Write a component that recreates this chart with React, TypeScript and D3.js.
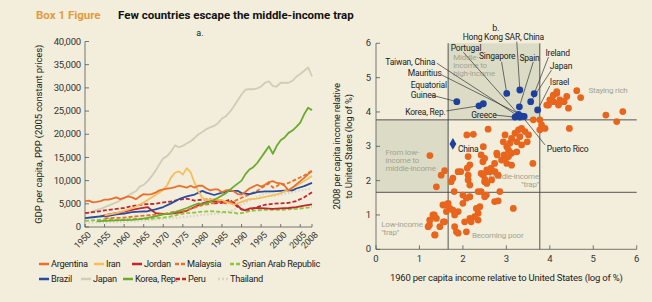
import React from 'react';
import * as d3 from 'd3';

const width = 652;
const height = 302;
const FONT = "'Roboto', 'Open Sans', sans-serif";
const bg = '#f2eedb';
const shade = '#dcdcc6';
const dotOrange = '#e8651d';
const dotBlue = '#1f3f9c';
const greyText = '#a3a392';

// panel a: GDP per capita, [year, value]
const argentina = [[1950,5600],[1951,5700],[1952,5300],[1953,5400],[1954,5600],[1955,5900],[1956,5900],[1957,6100],[1958,6400],[1959,6000],[1960,6300],[1961,6600],[1962,6400],[1963,6000],[1964,6600],[1965,7100],[1966,7000],[1967,7100],[1968,7400],[1969,7900],[1970,8100],[1971,8300],[1972,8400],[1973,8600],[1974,8900],[1975,8700],[1976,8500],[1977,8900],[1978,8500],[1979,8900],[1980,8900],[1981,8300],[1982,7900],[1983,8100],[1984,8100],[1985,7500],[1986,7900],[1987,8000],[1988,7700],[1989,7100],[1990,7000],[1991,7600],[1992,8300],[1993,8700],[1994,9100],[1995,8700],[1996,9100],[1997,9700],[1998,9900],[1999,9500],[2000,9400],[2001,8900],[2002,7900],[2003,8500],[2004,9200],[2005,9900],[2006,10600],[2007,11400],[2008,12000]];
const iran = [[1955,2500],[1958,3000],[1960,3500],[1962,4000],[1964,4800],[1966,5800],[1968,6900],[1970,8000],[1971,9000],[1972,10700],[1973,11700],[1974,12000],[1975,11300],[1976,12700],[1977,11800],[1978,9500],[1979,7600],[1980,6300],[1981,5800],[1983,6000],[1985,5800],[1987,5100],[1988,4800],[1990,5400],[1992,6000],[1994,6100],[1996,6500],[1998,6800],[2000,7300],[2002,8000],[2004,8900],[2006,9900],[2008,11000]];
const jordan = [[1954,2300],[1956,2700],[1958,3000],[1960,3300],[1962,3700],[1964,4000],[1966,4300],[1967,3600],[1968,3000],[1970,2800],[1972,2900],[1974,3100],[1976,3500],[1978,4300],[1980,5100],[1982,5600],[1984,5500],[1986,5400],[1988,5300],[1989,4600],[1990,3800],[1991,3600],[1992,4000],[1994,4100],[1996,4000],[1998,3900],[2000,4000],[2002,4100],[2004,4300],[2006,4600],[2008,4900]];
const malaysia = [[1955,1900],[1960,2000],[1963,2300],[1966,2500],[1970,2800],[1973,3300],[1975,3400],[1978,4200],[1980,4700],[1982,5000],[1984,5400],[1986,5100],[1988,5500],[1990,6300],[1992,7000],[1994,7800],[1996,8900],[1997,9400],[1998,8500],[1999,8800],[2000,9400],[2001,9200],[2002,9500],[2004,10300],[2006,11100],[2008,12200]];
const syria = [[1950,1300],[1953,1500],[1956,1700],[1958,1500],[1960,1600],[1963,1800],[1966,1700],[1968,1900],[1970,2000],[1972,2300],[1974,2700],[1976,3000],[1978,3100],[1980,3300],[1982,3400],[1984,3300],[1986,3200],[1988,3100],[1989,2900],[1990,3000],[1992,3400],[1994,3600],[1996,3700],[1998,3700],[2000,3700],[2002,3800],[2004,3900],[2006,4100],[2008,4300]];
const brazil = [[1950,1900],[1952,2100],[1954,2300],[1956,2400],[1958,2700],[1960,2900],[1962,3200],[1964,3300],[1966,3400],[1968,3800],[1970,4300],[1972,5100],[1974,6000],[1976,6600],[1978,7000],[1980,7800],[1981,7400],[1983,6900],[1985,7400],[1987,7800],[1989,7800],[1990,7300],[1992,7100],[1994,7500],[1996,7700],[1998,7700],[2000,7800],[2002,7900],[2003,7900],[2004,8300],[2006,8800],[2008,9500]];
const japan = [[1950,2800],[1952,3400],[1954,3900],[1956,4600],[1958,5300],[1960,6200],[1962,7300],[1963,7700],[1964,8700],[1965,9100],[1966,9900],[1967,10900],[1968,12100],[1969,13500],[1970,14800],[1971,15300],[1972,16300],[1973,17600],[1974,17200],[1975,17500],[1976,18000],[1977,18500],[1978,19200],[1979,20000],[1980,20500],[1981,21100],[1982,21500],[1983,21800],[1984,22400],[1985,23400],[1986,23900],[1987,24800],[1988,26000],[1989,27300],[1990,28600],[1991,29600],[1992,29700],[1993,29700],[1994,29900],[1995,30300],[1996,31100],[1997,31400],[1998,30400],[1999,30300],[2000,31100],[2001,31100],[2002,31100],[2003,31500],[2004,32400],[2005,33000],[2006,33700],[2007,34400],[2008,32500]];
const korea = [[1953,1200],[1955,1300],[1958,1450],[1960,1500],[1962,1550],[1964,1700],[1966,1950],[1968,2300],[1970,2700],[1972,2950],[1974,3500],[1976,4100],[1978,4800],[1979,5100],[1980,4900],[1982,5400],[1984,6300],[1986,7300],[1988,8700],[1990,10000],[1991,11400],[1992,12400],[1993,12900],[1994,13800],[1995,15000],[1996,16200],[1997,17400],[1998,15800],[1999,17500],[2000,18700],[2001,19300],[2002,20300],[2003,20800],[2004,21600],[2005,22500],[2006,24300],[2007,25700],[2008,25200]];
const peru = [[1950,3000],[1953,3300],[1956,3700],[1958,3900],[1960,4100],[1962,4500],[1965,4900],[1968,5000],[1970,5300],[1972,5500],[1974,5900],[1976,6100],[1978,5700],[1980,5900],[1982,6000],[1983,5100],[1985,5200],[1987,5900],[1988,5100],[1989,4300],[1990,3800],[1992,3700],[1994,4300],[1996,4800],[1998,5000],[2000,5100],[2002,5200],[2004,5600],[2006,6400],[2008,7500]];
const thailand = [[1950,900],[1954,1000],[1958,1050],[1960,1100],[1964,1300],[1968,1600],[1970,1800],[1974,2000],[1978,2400],[1980,2600],[1984,2900],[1986,3100],[1988,3700],[1990,4800],[1992,5700],[1994,6500],[1996,7300],[1997,7500],[1998,6700],[2000,7000],[2002,7300],[2004,7700],[2006,8000],[2008,8300]];

const series = [
  {name: 'Argentina', data: argentina, color: '#e8702a', dash: null, w: 1.8},
  {name: 'Iran', data: iran, color: '#f7bd5c', dash: null, w: 1.8},
  {name: 'Jordan', data: jordan, color: '#c1272d', dash: null, w: 1.8},
  {name: 'Malaysia', data: malaysia, color: '#e8702a', dash: '4,2', w: 1.8},
  {name: 'Syrian Arab Republic', data: syria, color: '#8cc63f', dash: '4,2', w: 1.8},
  {name: 'Brazil', data: brazil, color: '#2a4ba0', dash: null, w: 1.8},
  {name: 'Japan', data: japan, color: '#cfcdb4', dash: null, w: 1.8},
  {name: 'Korea, Rep.', data: korea, color: '#6aab2e', dash: null, w: 1.8},
  {name: 'Peru', data: peru, color: '#c1272d', dash: '4,2', w: 1.8},
  {name: 'Thailand', data: thailand, color: '#d6d4c4', dash: '1.5,2', w: 2.2},
];
const drawOrder = ['Japan', 'Thailand', 'Syrian Arab Republic', 'Jordan', 'Peru', 'Malaysia', 'Brazil', 'Iran', 'Argentina', 'Korea, Rep.'];
const legendRows = [
  ['Argentina', 'Iran', 'Jordan', 'Malaysia', 'Syrian Arab Republic'],
  ['Brazil', 'Japan', 'Korea, Rep.', 'Peru', 'Thailand'],
];
const legendX = [[39, 94, 132, 175, 230], [39, 81, 123, 176, 218]];
const yearTicks = [1950, 1955, 1960, 1965, 1970, 1975, 1980, 1985, 1990, 1995, 2000, 2005, 2008];
const gdpTicks = [0, 5000, 10000, 15000, 20000, 25000, 30000, 35000, 40000];

// panel b: log of % of US income, 1960 vs 2008
const thresholds = [1.66, 3.77];
const logTicks = [0, 1, 2, 3, 4, 5, 6];
const orangeDots = [
  [1.24,2.73],[1.50,2.16],[1.58,2.29],[1.39,1.82],[1.89,2.26],[1.95,2.26],[1.73,1.97],[1.77,2.07],
  [2.12,2.70],[2.16,2.46],[2.10,2.36],[2.12,2.16],[1.80,1.68],[2.00,1.58],[2.16,1.53],[2.08,1.49],
  [2.35,1.68],[2.42,1.68],[2.50,1.53],[2.73,1.39],[2.85,1.68],[1.54,1.29],[1.66,1.34],[1.70,1.19],
  [1.62,1.10],[1.77,1.14],[1.89,1.10],[1.81,1.00],[2.00,1.34],[1.31,1.00],[1.39,0.90],[1.24,0.85],
  [1.20,0.66],[1.47,0.66],[1.35,0.42],[1.58,0.80],[1.81,0.66],[1.85,0.51],[1.89,0.47],[2.08,0.51],
  [2.04,0.80],[2.16,0.90],[2.27,0.95],[2.35,1.05],[2.31,1.19],[2.39,1.24],[2.35,0.85],[2.19,0.80],
  [2.54,1.58],[2.42,2.21],[2.50,1.97],[2.58,2.26],[2.65,2.36],[2.73,2.50],[2.79,2.75],[2.95,2.75],
  [2.46,2.55],[2.42,2.75],[2.50,2.65],[2.58,3.50],[2.09,3.33],[2.24,3.35],[2.47,2.99],[2.78,2.80],
  [2.93,3.13],[3.01,2.99],[2.97,3.33],[3.12,3.23],[3.20,3.38],[3.28,3.48],[3.35,3.52],[3.31,3.28],
  [3.24,3.13],[3.08,3.09],[3.05,2.89],[3.12,2.80],[3.24,2.84],[3.35,3.04],[3.43,3.43],[3.51,3.33],
  [3.48,3.13],[3.62,3.77],[3.77,3.77],[3.81,3.62],[3.77,3.48],[3.89,3.52],[3.61,2.50],[2.97,2.65],
  [3.05,2.70],[2.89,2.60],[3.01,2.50],[3.12,2.45],[2.55,2.31],[2.62,2.26],[2.74,2.26],[2.47,2.16],
  [2.51,2.02],[2.55,1.92],[2.81,2.16],[2.66,2.02],[2.12,2.02],[2.16,1.87],[3.93,4.20],[4.08,4.30],
  [4.20,4.25],[4.33,4.30],[4.43,4.11],[4.45,3.52],[5.29,3.91],[5.54,3.72],[5.68,4.01],[4.00,4.35],
  [4.08,4.49],[4.16,4.54],[4.23,4.35],[4.31,4.30],[4.39,4.45],[4.20,4.20],[3.97,4.20],[4.04,4.35],
  [4.16,4.59],[4.62,4.62],[4.71,4.42],[3.16,1.19],[2.81,1.41],[1.23,0.71],[1.24,0.85],[1.34,1.00],
  [1.59,1.29],[1.55,0.80],[1.36,0.42],
];
const blueNames = ['Equatorial Guinea', 'Korea, Rep.', 'Cyprus', 'Singapore', 'Hong Kong SAR, China', 'Ireland', 'Japan', 'Israel', 'Spain', 'Portugal', 'Greece', 'Taiwan, China', 'Mauritius', 'Puerto Rico'];
const blueX = [1.86, 2.37, 2.47, 3.01, 3.31, 3.64, 3.56, 3.72, 3.30, 3.28, 3.20, 3.31, 3.41, 3.36];
const blueY = [4.30, 4.18, 4.24, 4.54, 4.64, 4.53, 4.30, 4.06, 4.15, 3.93, 3.85, 3.85, 3.87, 3.88];
const china = [1.77, 3.07];

// labels in data units: text position, anchor, leader start, target point
const pointLabels = [
  {text: ['Hong Kong SAR, China'], x: 2.93, y: 6.18, anchor: 'middle', lx: 3.24, ly: 6.05},
  {text: ['Portugal'], x: 1.72, y: 5.87, anchor: 'start', lx: 2.01, ly: 5.74},
  {text: ['Singapore'], x: 2.37, y: 5.61, anchor: 'start', lx: 2.89, ly: 5.46},
  {text: ['Spain'], x: 3.3, y: 5.57, anchor: 'start', lx: 3.62, ly: 5.46},
  {text: ['Ireland'], x: 3.9, y: 5.72, anchor: 'start', lx: 3.97, ly: 5.6},
  {text: ['Japan'], x: 4.0, y: 5.33, anchor: 'start', lx: 4.04, ly: 5.22},
  {text: ['Israel'], x: 4.0, y: 4.88, anchor: 'start', lx: 4.0, ly: 4.76},
  {text: ['Taiwan, China'], x: 1.36, y: 5.46, anchor: 'end', lx: 1.40, ly: 5.42},
  {text: ['Mauritius'], x: 1.51, y: 5.12, anchor: 'end', lx: 1.51, ly: 5.08},
  {text: ['Equatorial', 'Guinea'], x: 0.8, y: 4.78, anchor: 'start', lx: 1.28, ly: 4.49, to: 'Equatorial Guinea'},
  {text: ['Korea, Rep.'], x: 1.6, y: 4.0, anchor: 'end', lx: 1.62, ly: 4.03},
  {text: ['Greece'], x: 2.19, y: 3.9, anchor: 'start', lx: 2.74, ly: 3.91},
  {text: ['Puerto Rico'], x: 3.93, y: 2.93, anchor: 'start', lx: 3.89, ly: 3.04},
];

const quadrantNotes = [
  {lines: ['Middle-', 'income to', 'high-income'], x: 1.78, y: 5.52, anchor: 'start'},
  {lines: ['Staying rich'], x: 5.34, y: 4.55, anchor: 'middle'},
  {lines: ['From low-', 'income to', 'middle-income'], x: 0.22, y: 2.75, anchor: 'start'},
  {lines: ['Middle-income', '"trap"'], x: 3.75, y: 2.06, anchor: 'end'},
  {lines: ['Low-income', '"trap"'], x: 0.12, y: 0.66, anchor: 'start'},
  {lines: ['Becoming poor'], x: 2.8, y: 0.33, anchor: 'middle'},
];

const xYear = d3.scaleLinear().domain([1950, 2008]).range([85, 312]);
const yGdp = d3.scaleLinear().domain([0, 40000]).range([227, 41.5]);
const xLog = d3.scaleLinear().domain([0, 6]).range([376, 636.7]);
const yLog = d3.scaleLinear().domain([0, 6]).range([249.3, 43.3]);

export default function App() {
  const line = d3.line<number[]>().x(d => xYear(d[0])).y(d => yGdp(d[1]));
  const byName: Record<string, any> = {};
  series.forEach(s => { byName[s.name] = s; });
  const fmt = d3.format(',');
  const t = thresholds;

  return (
    <svg width={width} height={height} style={{position: 'absolute', left: 0, top: 0}} fontFamily={FONT}>
      <rect width={width} height={height} fill={bg}/>
      <text x={36} y={19} fontSize={11.5} fontWeight='bold' fill='#e39b3c'>Box 1 Figure</text>
      <text x={118} y={19} fontSize={11.5} fontWeight='bold' fill='#111'>Few countries escape the middle-income trap</text>

      {/* panel a */}
      <text x={200} y={36} fontSize={9} textAnchor='middle' fill='#222'>a.</text>
      <line x1={85} x2={85} y1={yGdp(40000)} y2={yGdp(0)} stroke='#555' strokeWidth={0.8}/>
      <line x1={85} x2={312} y1={yGdp(0)} y2={yGdp(0)} stroke='#555' strokeWidth={0.8}/>
      {gdpTicks.map(v => (
        <g key={v}>
          <line x1={85} x2={89} y1={yGdp(v)} y2={yGdp(v)} stroke='#555' strokeWidth={0.8}/>
          <text x={81} y={yGdp(v)} dy='0.33em' textAnchor='end' fontSize={9.5} letterSpacing={-0.2} fill='#333'>{fmt(v)}</text>
        </g>
      ))}
      {yearTicks.map(v => (
        <g key={v}>
          <line x1={xYear(v)} x2={xYear(v)} y1={yGdp(0)} y2={yGdp(0) - 3} stroke='#555' strokeWidth={0.8}/>
          <text transform={`translate(${xYear(v) + 2},${yGdp(0) + 4}) rotate(-45)`} dy='0.7em' textAnchor='end' fontSize={9} letterSpacing={-0.2} fill='#333'>{v}</text>
        </g>
      ))}
      <text transform={`translate(42,${(yGdp(0) + yGdp(40000)) / 2}) rotate(-90)`} textAnchor='middle' fontSize={9.5} letterSpacing={-0.1} fill='#222'>GDP per capita, PPP (2005 constant prices)</text>
      {drawOrder.map(n => {
        const s = byName[n];
        return <path key={n} d={line(s.data) || ''} fill='none' stroke={s.color} strokeWidth={s.w}
          strokeDasharray={s.dash || undefined} strokeLinejoin='round'/>;
      })}
      {legendRows.map((row, r) => row.map((n, i) => {
        const s = byName[n];
        const y = 264 + r * 15;
        const x = legendX[r][i];
        return (
          <g key={n}>
            <line x1={x} x2={x + 10} y1={y} y2={y} stroke={s.color} strokeWidth={2.5} strokeDasharray={s.dash ? (s.name === 'Thailand' ? '2,2' : '4,2') : undefined}/>
            <text x={x + 12} y={y} dy='0.35em' fontSize={9.2} letterSpacing={-0.3} fill='#222'>{n}</text>
          </g>
        );
      }))}

      {/* panel b */}
      <text x={496} y={31} fontSize={9} textAnchor='middle' fill='#222'>b.</text>
      <rect x={xLog(t[0])} y={yLog(6)} width={xLog(t[1]) - xLog(t[0])} height={yLog(t[1]) - yLog(6)} fill={shade}/>
      <rect x={xLog(0)} y={yLog(t[1])} width={xLog(t[0]) - xLog(0)} height={yLog(t[0]) - yLog(t[1])} fill={shade}/>
      {t.map(v => (
        <g key={v}>
          <line x1={xLog(v)} x2={xLog(v)} y1={yLog(6)} y2={yLog(0)} stroke='#444' strokeWidth={0.9}/>
          <line x1={xLog(0)} x2={xLog(6)} y1={yLog(v)} y2={yLog(v)} stroke='#444' strokeWidth={0.9}/>
        </g>
      ))}
      <line x1={xLog(0)} x2={xLog(0)} y1={yLog(6)} y2={yLog(0)} stroke='#555' strokeWidth={0.8}/>
      <line x1={xLog(0)} x2={xLog(6)} y1={yLog(0)} y2={yLog(0)} stroke='#555' strokeWidth={0.8}/>
      {logTicks.map(v => (
        <g key={v}>
          <line x1={xLog(0)} x2={xLog(0) + 4} y1={yLog(v)} y2={yLog(v)} stroke='#555' strokeWidth={0.8}/>
          <text x={xLog(0) - 5} y={yLog(v)} dy='0.33em' textAnchor='end' fontSize={9.5} fill='#333'>{v}</text>
          <line x1={xLog(v)} x2={xLog(v)} y1={yLog(0)} y2={yLog(0) - 4} stroke='#555' strokeWidth={0.8}/>
          <text x={xLog(v)} y={yLog(0) + 13} textAnchor='middle' fontSize={9.5} fill='#333'>{v}</text>
        </g>
      ))}
      <text x={(xLog(0) + xLog(6)) / 2} y={281} textAnchor='middle' fontSize={9.5} letterSpacing={-0.2} fill='#222'>1960 per capita income relative to United States (log of %)</text>
      <text transform={`translate(340,${yLog(3)}) rotate(-90)`} textAnchor='middle' fontSize={9.5} letterSpacing={-0.2} fill='#222'>
        <tspan x={0} dy={0}>2008 per capita income relative</tspan>
        <tspan x={0} dy={11.5}>to United States (log of %)</tspan>
      </text>
      {quadrantNotes.map((q, i) => (
        <text key={i} x={xLog(q.x)} y={yLog(q.y)} textAnchor={q.anchor} fontSize={8} letterSpacing={-0.2} fill={greyText}>
          {q.lines.map((l, j) => <tspan key={j} x={xLog(q.x)} dy={j === 0 ? 0 : 8.3}>{l}</tspan>)}
        </text>
      ))}
      {pointLabels.map((p, i) => {
        const k = blueNames.indexOf(p.to || p.text[0]);
        return <line key={i} x1={xLog(p.lx)} y1={yLog(p.ly)} x2={xLog(blueX[k])} y2={yLog(blueY[k])} stroke='#333' strokeWidth={0.7}/>;
      })}
      {orangeDots.map((d, i) => (
        <circle key={i} cx={xLog(d[0])} cy={yLog(d[1])} r={3.4} fill={dotOrange}/>
      ))}
      {blueNames.map((n, i) => (
        <circle key={n} cx={xLog(blueX[i])} cy={yLog(blueY[i])} r={3.4} fill={dotBlue}/>
      ))}
      <path d={d3.symbol(d3.symbolDiamond, 40)() || ''} transform={`translate(${xLog(china[0])},${yLog(china[1])})`} fill={dotBlue}/>
      <text x={xLog(china[0]) + 5} y={yLog(china[1]) + 5} dy='0.33em' fontSize={8.5} letterSpacing={-0.2} fill='#222'>China</text>
      {pointLabels.map((p, i) => (
        <text key={i} x={xLog(p.x)} y={yLog(p.y)} textAnchor={p.anchor} fontSize={8.5} letterSpacing={-0.2} fill='#222'>
          {p.text.map((l, j) => <tspan key={j} x={xLog(p.x)} dy={j === 0 ? '0.33em' : 10}>{l}</tspan>)}
        </text>
      ))}
    </svg>
  );
}
